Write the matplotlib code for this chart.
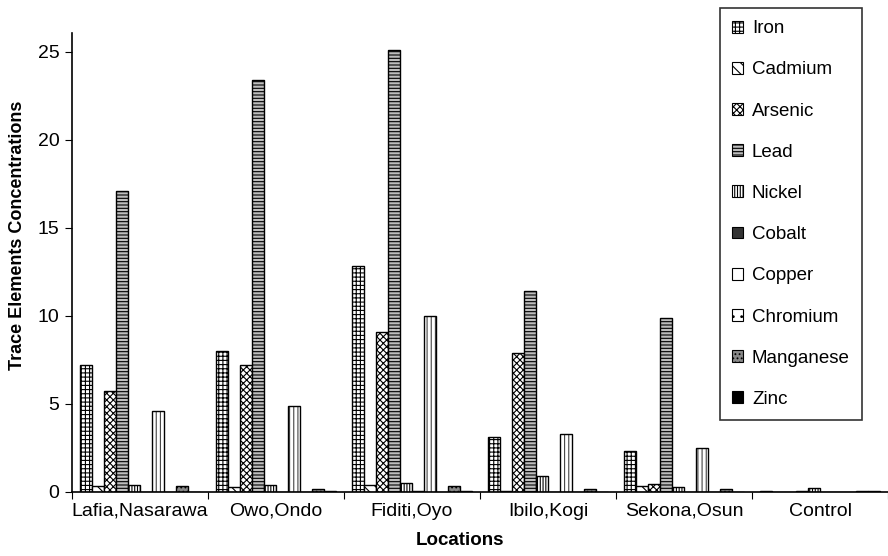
import matplotlib
matplotlib.use("Agg")
import matplotlib.pyplot as plt
import numpy as np
from matplotlib.patches import Patch

plt.rcParams['font.family'] = ['Liberation Sans', 'DejaVu Sans']
plt.rcParams['hatch.linewidth'] = 0.8

locations = ["Lafia,Nasarawa", "Owo,Ondo", "Fiditi,Oyo", "Ibilo,Kogi", "Sekona,Osun", "Control"]
elements = ["Iron", "Cadmium", "Arsenic", "Lead", "Nickel", "Cobalt", "Copper", "Chromium", "Manganese", "Zinc"]

iron      = [7.2, 8.0, 12.8, 3.1, 2.3, 0.03]
cadmium   = [0.35, 0.25, 0.4, 0.05, 0.3, 0.0]
arsenic   = [5.7, 7.2, 9.1, 7.9, 0.45, 0.0]
lead      = [17.1, 23.4, 25.1, 11.4, 9.85, 0.02]
nickel    = [0.4, 0.4, 0.5, 0.9, 0.25, 0.22]
cobalt    = [0.0, 0.0, 0.05, 0.0, 0.0, 0.0]
copper    = [4.6, 4.85, 10.0, 3.3, 2.5, 0.0]
chromium  = [0.0, 0.0, 0.0, 0.0, 0.0, 0.0]
manganese = [0.3, 0.15, 0.35, 0.18, 0.15, 0.04]
zinc      = [0.0, 0.05, 0.05, 0.0, 0.0, 0.06]

series = [iron, cadmium, arsenic, lead, nickel, cobalt, copper, chromium, manganese, zinc]

styles = [
    dict(facecolor='white', hatch='++++', hc='black'),
    dict(facecolor='white', hatch='\\\\\\', hc='black'),
    dict(facecolor='white', hatch='xxxxx', hc='black'),
    dict(facecolor='#bdbdbd', hatch='-----', hc='black'),
    dict(facecolor='white', hatch='||||||', hc='black'),
    dict(facecolor='#333333', hatch='++', hc='white'),
    dict(facecolor='white', hatch='||||', hc='#444444'),
    dict(facecolor='white', hatch='..', hc='black'),
    dict(facecolor='#888888', hatch='....', hc='black'),
    dict(facecolor='black', hatch='', hc='black'),
]

fig = plt.figure(figsize=(8.88, 5.56), dpi=100)
ax = fig.add_axes([72/888, 1 - 491.7/556, 1 - 72/888, (491.7 - 33)/556])

period = 136.0
bw = 12.0 / period
offset0 = 8.0 / period
x = np.arange(len(locations))
for i, (vals, st) in enumerate(zip(series, styles)):
    xs = x + offset0 + bw * i + bw / 2
    ax.bar(xs, vals, width=bw, facecolor=st['facecolor'], hatch=st['hatch'],
           edgecolor=st['hc'], linewidth=0.5)
    ax.bar(xs, vals, width=bw, fill=False, edgecolor='black', linewidth=1.0,
           label=elements[i])

ax.set_xlim(0, len(locations))
ax.set_ylim(0, 26.06)
ax.set_yticks([0, 5, 10, 15, 20, 25])
ax.set_xticks(np.arange(len(locations) + 1))
ax.set_xticklabels([])
ax.set_xticks(x + 0.5, minor=True)
ax.set_xticklabels(locations, minor=True, fontsize=14)
ax.tick_params(axis='x', which='minor', length=0, pad=8)
ax.tick_params(axis='x', which='major', length=5, direction='out')
ax.tick_params(axis='y', length=5, direction='out', labelsize=14, pad=4)
for s in ['top', 'right']:
    ax.spines[s].set_visible(False)
ax.spines['left'].set_linewidth(1.2)
ax.spines['bottom'].set_linewidth(1.2)

ax.set_xlabel("Locations", fontsize=13.5, fontweight='bold')
ax.xaxis.set_label_coords((460 - 72) / 816, (491.7 - 532) / 458.7)
ax.set_ylabel("Trace Elements Concentrations", fontsize=13, fontweight='bold')
ax.yaxis.set_label_coords((26 - 72) / 816, (491.7 - 235) / 458.7)

handles = [Patch(facecolor=st['facecolor'], hatch=st['hatch'] if st['hc'] == 'black' else '',
                 edgecolor='black', linewidth=0.8) for st in styles]
leg = fig.legend(handles, elements, loc='upper left',
                 bbox_to_anchor=(720/888, 1 - 8/556), bbox_transform=fig.transFigure,
                 fontsize=13.5, frameon=True, fancybox=False, edgecolor='black',
                 handlelength=0.6, handleheight=0.6, handletextpad=0.45,
                 labelspacing=1.29, borderpad=0.65, borderaxespad=0)
leg.get_frame().set_linewidth(1.2)

fig.savefig("out.png", dpi=100)
